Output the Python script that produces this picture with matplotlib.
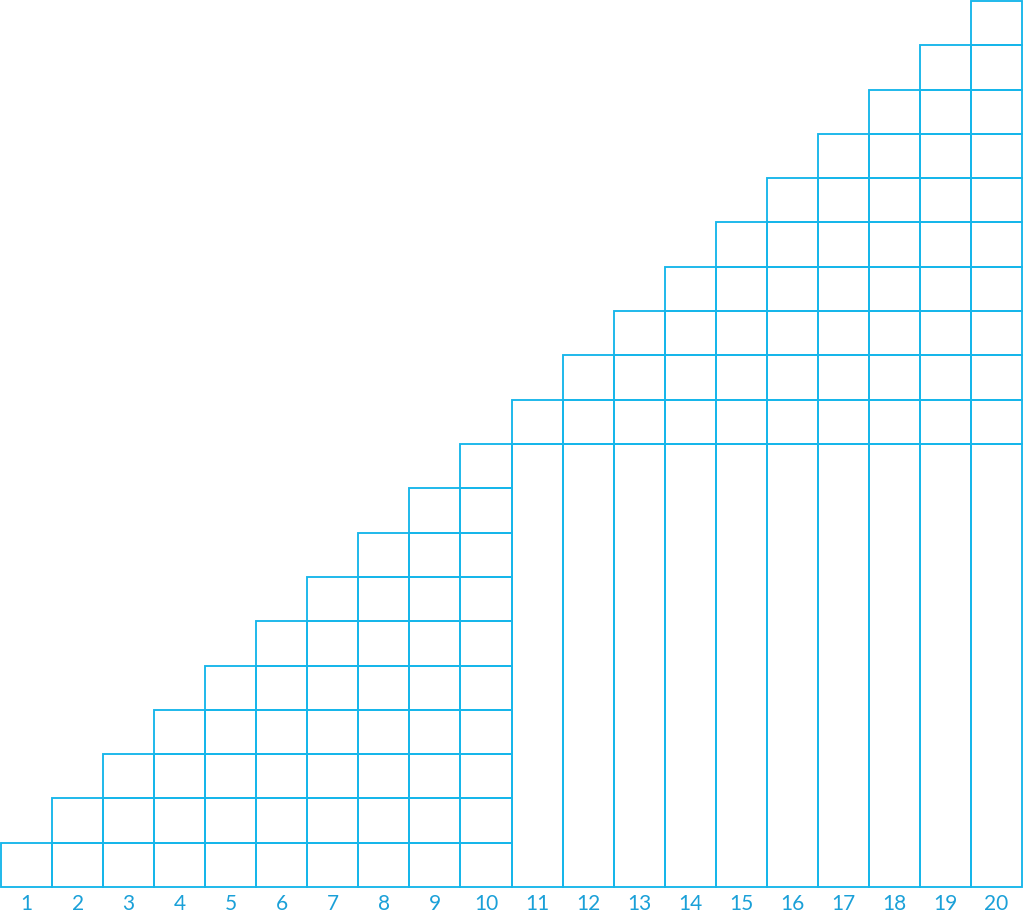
import matplotlib
matplotlib.use("Agg")
import matplotlib.pyplot as plt

categories = [str(i) for i in range(1, 21)]
heights = [1, 2, 3, 4, 5, 6, 7, 8, 9, 10, 11, 12, 13, 14, 15, 16, 17, 18, 19, 20]
base_block = [0, 0, 0, 0, 0, 0, 0, 0, 0, 0, 10, 10, 10, 10, 10, 10, 10, 10, 10, 10]

line_color = "#17b6ea"
label_color = "#1aa0d8"

W, H = 1024, 918
fig = plt.figure(figsize=(W / 100, H / 100), dpi=100)
left = 1 / W
right = 1022 / W
bottom = (H - 887) / H
top = (H - 1) / H
ax = fig.add_axes([left, bottom, right - left, top - bottom])

x = list(range(len(categories)))
for i, (h, b) in enumerate(zip(heights, base_block)):
    if b > 0:
        bars = ax.bar(x[i], b, width=1.0, bottom=0, facecolor="none",
                      edgecolor=line_color, linewidth=1.35, align="center")
        for r in bars:
            r.set_clip_on(False)
    n_cells = h - b
    bars = ax.bar([x[i]] * n_cells, [1] * n_cells, width=1.0,
                  bottom=[b + k for k in range(n_cells)], facecolor="none",
                  edgecolor=line_color, linewidth=1.35, align="center")
    for r in bars:
        r.set_clip_on(False)

ax.set_xlim(-0.5, len(categories) - 0.5)
ax.set_ylim(0, max(heights))
ax.set_xticks(x)
ax.set_xticklabels(categories, fontsize=15, color=label_color,
                   family=["Lato", "DejaVu Sans"], fontweight="normal")
ax.tick_params(axis="x", length=0, pad=5)
ax.set_yticks([])
for s in ax.spines.values():
    s.set_visible(False)
ax.patch.set_visible(False)

fig.savefig("out.png", dpi=100, facecolor="white")
